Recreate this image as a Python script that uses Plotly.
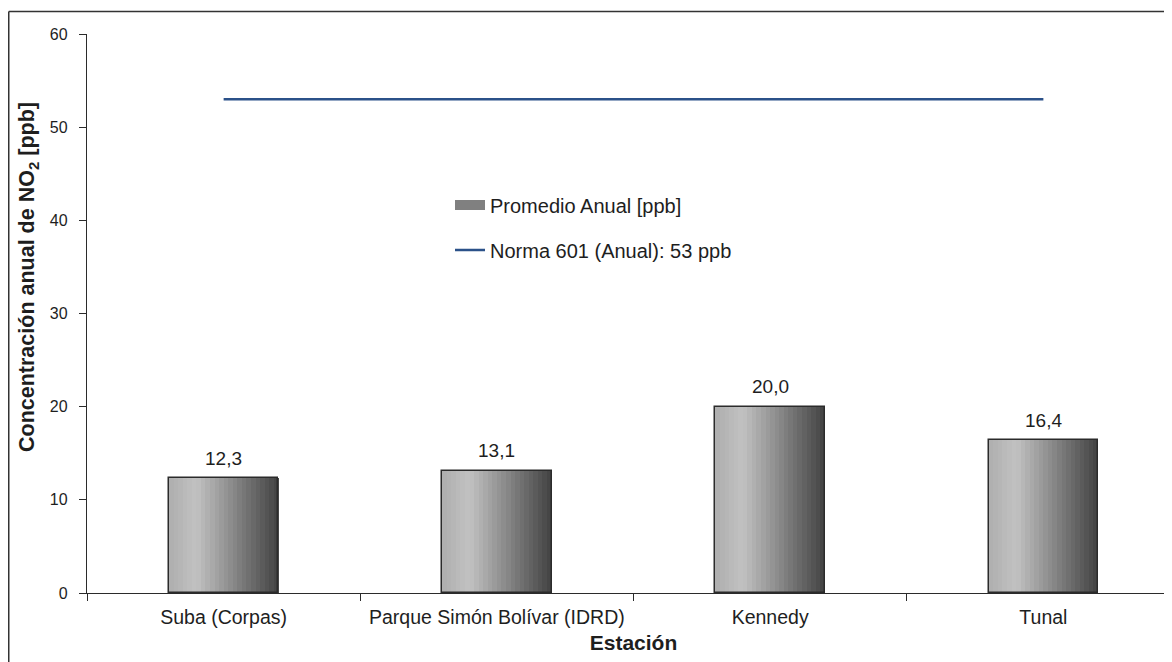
import plotly.graph_objects as go

estaciones = ["Suba (Corpas)", "Parque Simón Bolívar (IDRD)", "Kennedy", "Tunal"]
promedio_anual = [12.3, 13.1, 20.0, 16.4]
norma_601 = [53, 53, 53, 53]
y_ticks = [0, 10, 20, 30, 40, 50, 60]

FONT = "Liberation Sans, Arial, sans-serif"
TXT = "#1e1e1e"

fig = go.Figure()

# gradient bars built from thin slices
N = 24
bar_w = 0.40
dark = (66, 66, 66)
def col(t):
    if t < 0.25:
        a = (174, 174, 174); b = (194, 194, 194); u = t / 0.25
    else:
        a = (194, 194, 194); b = dark; u = (t - 0.25) / 0.75
    c = [round(a[k] + (b[k] - a[k]) * u) for k in range(3)]
    return f"rgb({c[0]},{c[1]},{c[2]})"

sw = bar_w / N
for i in range(N):
    fig.add_trace(go.Bar(
        x=estaciones, y=promedio_anual,
        width=sw * 1.08, offset=-bar_w / 2 + i * sw,
        marker=dict(color=col((i + 0.5) / N), line=dict(width=0)),
        showlegend=False, hoverinfo="skip",
    ))

# outline
fig.add_trace(go.Bar(
    x=estaciones, y=promedio_anual,
    width=bar_w, offset=-bar_w / 2,
    marker=dict(color="rgba(0,0,0,0)", line=dict(color="#2b2b2b", width=1.5)),
    showlegend=False,
))

# legend-only entry for bars (wide swatch)
fig.add_trace(go.Scatter(
    x=[None], y=[None], mode="lines", name="Promedio Anual [ppb]",
    line=dict(color="#808080", width=10),
    legend="legend",
))

fig.add_trace(go.Scatter(
    x=estaciones, y=norma_601, mode="lines",
    name="Norma 601 (Anual): 53 ppb",
    line=dict(color="#2B5189", width=2.6),
    legend="legend2",
))

for xv, yv in zip(estaciones, promedio_anual):
    fig.add_annotation(x=xv, y=yv, text=f"{yv:.1f}".replace(".", ","),
                       showarrow=False, yshift=20,
                       font=dict(family=FONT, size=19, color=TXT))

# page has 8px body margin; figure placed at (8, 8)
OFF = 8
W, H = 1172, 662
L, R, T, B = 87 - OFF, 0, 34 - OFF, H - (593 - OFF)
pw, ph = W - L - R, H - T - B
def px(xp):
    return (xp - OFF - L) / pw
def py(yp):
    return (H - B - (yp - OFF)) / ph

fig.add_shape(type="line", xref="paper", yref="paper",
              x0=px(8.75), x1=px(8.75), y0=py(720), y1=py(11.5),
              line=dict(color="#333333", width=1.5))
fig.add_shape(type="line", xref="paper", yref="paper",
              x0=px(8.75), x1=px(1250), y0=py(11.5), y1=py(11.5),
              line=dict(color="#333333", width=1.5))

# y-axis title as rotated annotation (positioned like the reference)
fig.add_annotation(
    xref="paper", yref="paper", x=px(28), y=py(277),
    xanchor="center", yanchor="middle", textangle=-90, showarrow=False,
    text="<b>Concentración anual de NO<sub>2</sub> [ppb]</b>",
    font=dict(family=FONT, size=21.5, color=TXT),
)

fig.update_layout(
    width=W, height=H,
    margin=dict(l=L, r=R, t=T, b=B),
    barmode="overlay",
    bargap=0,
    plot_bgcolor="white", paper_bgcolor="white",
    font=dict(family=FONT, size=16, color=TXT),
    legend=dict(x=px(450), y=py(205), xanchor="left", yanchor="middle",
                font=dict(family=FONT, size=20, color=TXT),
                bgcolor="rgba(0,0,0,0)", itemwidth=30),
    legend2=dict(x=px(450), y=py(250), xanchor="left", yanchor="middle",
                 font=dict(family=FONT, size=20, color=TXT),
                 bgcolor="rgba(0,0,0,0)", itemwidth=30),
)

fig.update_xaxes(
    type="category", range=[-0.5, 3.5],
    showline=True, linecolor="#2b2b2b", linewidth=1.3,
    ticks="outside", ticklen=7, tickcolor="#2b2b2b", tickwidth=1.3,
    tickson="boundaries", ticklabelstandoff=6,
    tickfont=dict(family=FONT, size=19.5, color=TXT),
    showgrid=False, zeroline=False,
    title=dict(text="<b>Estación</b>", font=dict(family=FONT, size=21, color=TXT),
               standoff=8),
)
fig.update_yaxes(
    range=[0, 60], tickvals=y_ticks,
    showline=True, linecolor="#2b2b2b", linewidth=1.3,
    ticks="outside", ticklen=7, tickcolor="#2b2b2b", tickwidth=1.3,
    ticklabelstandoff=8,
    tickfont=dict(family=FONT, size=16, color=TXT),
    showgrid=False, zeroline=False,
)

fig.write_html("out.html")
